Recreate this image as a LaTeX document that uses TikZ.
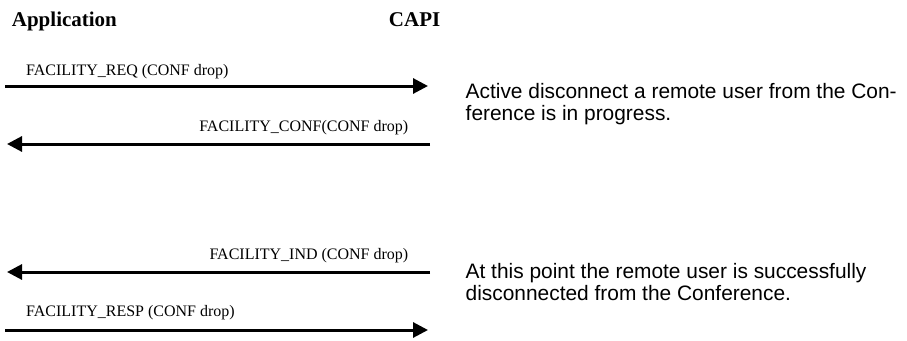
\documentclass[tikz,border=0pt]{standalone}
\usepackage{fontspec}
\setmainfont{Liberation Serif}
\newfontfamily\arialfont{Liberation Sans}
\usetikzlibrary{arrows.meta}
\tikzset{
  msg/.style={line width=3pt, -{Triangle[length=15pt,width=15pt]}},
  lbl/.style={inner sep=0pt, font=\fontsize{16}{19}\selectfont},
  hdr/.style={inner sep=0pt, font=\fontsize{21}{25}\selectfont\bfseries},
  note/.style={inner sep=0pt, anchor=base west, font=\arialfont\fontsize{20.9}{23}\selectfont},
}
\begin{document}
\begin{tikzpicture}[x=1pt,y=-1pt]
\useasboundingbox (0,0) rectangle (907,340);
% headers
\node[hdr, anchor=base west] (app) at (11.7,26.7) {Application};
\node[hdr, anchor=base east] (capi) at (440.5,26.7) {CAPI};
% end points
\coordinate (a1) at (5,86);   \coordinate (c1) at (428,86);
\coordinate (c2) at (430,144); \coordinate (a2) at (7,144);
\coordinate (c3) at (430,272); \coordinate (a3) at (7,272);
\coordinate (a4) at (5,330);  \coordinate (c4) at (428,330);
% messages
\draw[msg] (a1) -- (c1);
\draw[msg] (c2) -- (a2);
\draw[msg] (c3) -- (a3);
\draw[msg] (a4) -- (c4);
% labels
\node[lbl, anchor=base west] (l1) at (26,75) {FACILITY\_REQ (CONF drop)};
\node[lbl, anchor=base east] (l2) at (408.5,131.5) {FACILITY\_CONF(CONF drop)};
\node[lbl, anchor=base east] (l3) at (408.5,259.3) {FACILITY\_IND (CONF drop)};
\node[lbl, anchor=base west] (l4) at (26,316.5) {FACILITY\_RESP (CONF drop)};
% notes
\node[note] (n1a) at (465.5,98.5) {Active disconnect a remote user from the Con-};
\node[note] (n1b) at (465.5,120.8) {ference is in progress.};
\node[note] (n2a) at (465.5,278.5) {At this point the remote user is successfully};
\node[note] (n2b) at (465.5,300.8) {disconnected from the Conference.};
\end{tikzpicture}
\end{document}
